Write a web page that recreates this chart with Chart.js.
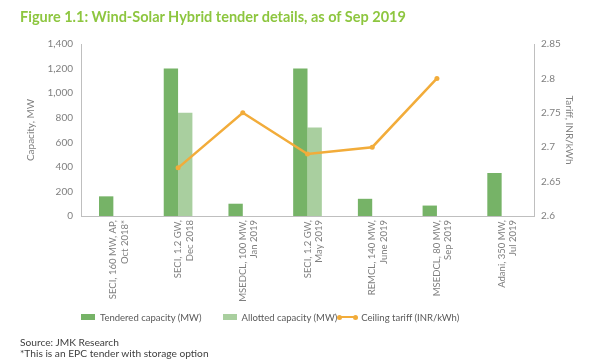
<!DOCTYPE html>
<html>
<head>
<meta charset="utf-8">
<script src="https://cdn.jsdelivr.net/npm/chart.js@4"></script>
<style>
  html, body { margin: 0; padding: 0; background: #fff; }
  #wrap { position: relative; width: 600px; height: 360px; overflow: hidden; font-family: Lato, "Open Sans", sans-serif; }
  #c { position: absolute; left: 0; top: 0; }
  #title { position: absolute; left: 20px; top: 9px; font-size: 14.5px; line-height: 16px; font-weight: bold; color: #8dc63f; white-space: nowrap; }
  #legend { position: absolute; left: 81px; top: 310px; height: 14px; display: flex; align-items: center; font-size: 9.5px; color: #595959; white-space: nowrap; }
  .li { display: flex; align-items: center; }
  .sw { width: 14px; height: 6px; margin-right: 5px; }
  .ln { position: relative; width: 19px; height: 2px; margin-right: 4px; }
  .ln::before, .ln::after { content: ""; position: absolute; top: -1.5px; width: 5px; height: 5px; border-radius: 50%; background: inherit; }
  .ln::before { left: -1px; } .ln::after { right: -1px; }
  #src { position: absolute; left: 20px; top: 337px; font-size: 10.2px; line-height: 11px; color: #404040; white-space: nowrap; }
</style>
</head>
<body>
<div id="wrap">
  <canvas id="c" width="600" height="360"></canvas>
  <div id="title">Figure 1.1: Wind-Solar Hybrid tender details, as of Sep 2019</div>
  <div id="legend"></div>
  <div id="src">Source: JMK Research<br>*This is an EPC tender with storage option</div>
</div>
<script>
const categories = [
  ["SECI, 160 MW, AP,", "Oct 2018*"],
  ["SECI, 1.2 GW,", "Dec 2018"],
  ["MSEDCL, 100 MW,", "Jan 2019"],
  ["SECI, 1.2 GW,", "May 2019"],
  ["REMCL, 140 MW,", "June 2019"],
  ["MSEDCL, 80 MW,", "Sep 2019"],
  ["Adani, 350 MW,", "Jul 2019"]
];
const tenderedCapacity = [160, 1200, 100, 1200, 140, 85, 350];
const allottedCapacity = [null, 840, null, 720, null, null, null];
const ceilingTariff = [null, 2.67, 2.75, 2.69, 2.70, 2.80, null];
const capacityTicks = [0, 200, 400, 600, 800, 1000, 1200, 1400];
const tariffTicks = [2.6, 2.65, 2.7, 2.75, 2.8, 2.85];

const seriesNames = ["Tendered capacity (MW)", "Allotted capacity (MW)", "Ceiling tariff (INR/kWh)"];
const colTender = "#76b367", colAllot = "#a9cf9f", colTariff = "#f2ac3a";
const tickColor = "#7f7f7f", axisColor = "#bfbfbf";
const tickFont = { family: "Lato", size: 10 };
const xFont = { family: "Lato", size: 9.5 };

function fixTicks(arr) {
  return function (scale) { scale.ticks = arr.map(v => ({ value: v })); };
}

const chart = new Chart(document.getElementById("c"), {
  data: {
    labels: categories,
    datasets: [
      { type: "line", label: seriesNames[2], data: ceilingTariff, yAxisID: "y2", order: 0,
        borderColor: colTariff, backgroundColor: colTariff, borderWidth: 2.5,
        pointRadius: 2.5, pointBackgroundColor: colTariff, pointBorderWidth: 0, tension: 0, spanGaps: false },
      { type: "bar", label: seriesNames[0], data: tenderedCapacity, yAxisID: "y", order: 1,
        backgroundColor: colTender, categoryPercentage: 0.443, barPercentage: 1 },
      { type: "bar", label: seriesNames[1], data: allottedCapacity, yAxisID: "y", order: 2,
        backgroundColor: colAllot, categoryPercentage: 0.443, barPercentage: 1 }
    ]
  },
  options: {
    responsive: false,
    animation: false,
    layout: { padding: { left: 21, right: 21, top: 44, bottom: 30 } },
    plugins: { legend: { display: false }, tooltip: { enabled: false } },
    scales: {
      x: {
        grid: { display: false, drawTicks: false },
        border: { display: true, color: axisColor, width: 1 },
        ticks: { color: tickColor, font: xFont, minRotation: 90, maxRotation: 90, padding: 4, autoSkip: false },
        afterFit: s => { s.height = 114; }
      },
      y: {
        position: "left", min: 0, max: 1400,
        afterBuildTicks: fixTicks(capacityTicks),
        grid: { display: false, drawTicks: false },
        border: { display: true, color: axisColor, width: 1 },
        ticks: { color: tickColor, font: tickFont, padding: 8,
                 callback: v => v.toLocaleString("en-US") },
        title: { display: true, text: "Capacity, MW", color: tickColor, font: tickFont, padding: { top: 4, bottom: 4 } },
        afterFit: s => { s.width = 60; }
      },
      y2: {
        position: "right", min: 2.6, max: 2.85,
        afterBuildTicks: fixTicks(tariffTicks),
        grid: { display: false, drawTicks: false },
        border: { display: true, color: axisColor, width: 1 },
        ticks: { color: tickColor, font: tickFont, padding: 7,
                 callback: v => String(Number(v.toFixed(2))) },
        title: { display: true, text: "Tariff, INR/kWh", color: tickColor, font: tickFont, padding: { top: 4, bottom: 4 } },
        afterFit: s => { s.width = 45; }
      }
    }
  }
});

// HTML legend built from the chart's datasets
const legend = document.getElementById("legend");
const order = [1, 2, 0];
const gaps = [21, 1, 0];
order.forEach((di, k) => {
  const ds = chart.data.datasets[di];
  const item = document.createElement("div");
  item.className = "li";
  item.style.marginRight = gaps[k] + "px";
  const mark = document.createElement("span");
  mark.className = ds.type === "line" ? "ln" : "sw";
  mark.style.background = ds.type === "line" ? ds.borderColor : ds.backgroundColor;
  const txt = document.createElement("span");
  txt.textContent = ds.label;
  item.appendChild(mark); item.appendChild(txt);
  legend.appendChild(item);
});
</script>
</body>
</html>
